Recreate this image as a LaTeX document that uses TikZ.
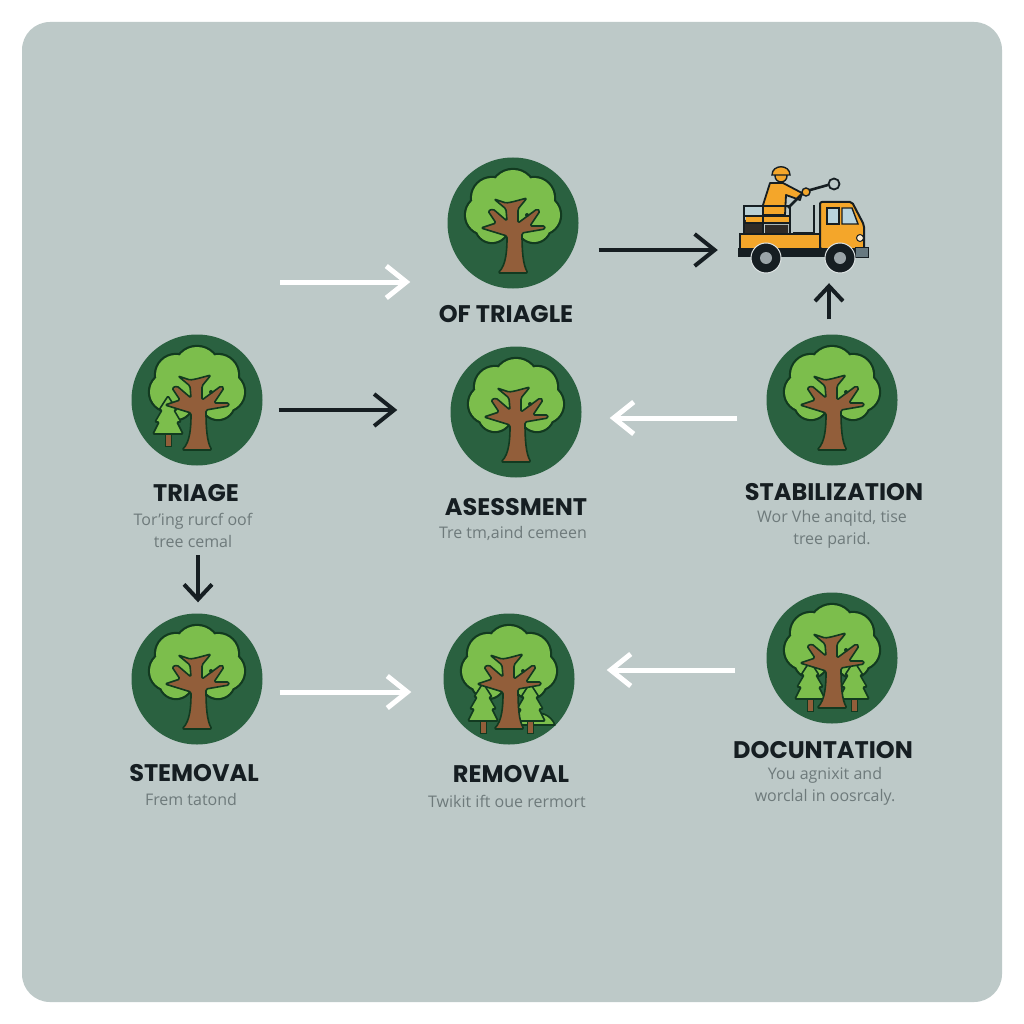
\documentclass[tikz,border=0pt]{standalone}
\usepackage{fontspec}
\setmainfont{Open Sans}
\newfontfamily\titlefont{Poppins}
\usetikzlibrary{arrows.meta,positioning}

\definecolor{panelgrey}{HTML}{BDC9C8}
\definecolor{discgreen}{HTML}{2A6140}
\definecolor{leafgreen}{HTML}{7CBE4C}
\definecolor{darkline}{HTML}{123A20}
\definecolor{barkbrown}{HTML}{925E3A}
\definecolor{inkblack}{HTML}{161E22}
\definecolor{descgrey}{HTML}{6E7A7B}
\definecolor{truckorange}{HTML}{F4A62A}
\definecolor{glassblue}{HTML}{B8D4DE}

\newcommand{\crownblobs}{
  (0,-31) circle (22) (-21,-25) circle (20) (21,-25) circle (20)
  (-28,-8) circle (19) (28,-8) circle (19) (-21,3) circle (16) (21,3) circle (16) (0,-8) circle (22)}

\tikzset{
  oak/.pic={
    % outline first, then the same blobs filled over it
    \begin{scope}[y=-1pt]
    \draw[darkline,line width=4.4pt,fill=darkline] \crownblobs;
    \fill[leafgreen] \crownblobs;
    \end{scope}
  },
  bark/.pic={
    \begin{scope}[y=-1pt]
    \draw[fill=barkbrown,draw=darkline,line width=1.6pt,rounded corners=1.5pt,line join=round]
      (-15,50) .. controls (-7,42) and (-6,28) .. (-6,13)
      -- (-32,5) -- (-17,0) -- (-25,-12) -- (-20,-14) -- (-6,-2) -- (-7,-14) -- (-19,-24)
      -- (-7,-20) -- (-1,-21) -- (14,-25) -- (5,-14) -- (5,0) -- (24,-14) -- (27,-12)
      -- (17,3) -- (32,3) -- (32,6) -- (9,10) .. controls (9,28) and (10,42) .. (15,50) -- cycle;
    \fill[darkline] (14,-8) circle (2);
    \end{scope}
  },
  pine/.pic={
    \begin{scope}[y=-1pt]
    \draw[fill=barkbrown,draw=darkline,line width=1pt] (-3,36) rectangle (3,50);
    \draw[fill=leafgreen,draw=darkline,line width=1.6pt,rounded corners=1pt,line join=round]
      (0,0) -- (-9,14) -- (-6,14) -- (-13,26) -- (-9,26) -- (-15,38) -- (15,38)
      -- (9,26) -- (13,26) -- (6,14) -- (9,14) -- cycle;
    \end{scope}
  },
  bush/.pic={
    \begin{scope}[y=-1pt]
    \draw[fill=leafgreen,draw=darkline,line width=1.6pt,line join=round]
      (1,46) .. controls (4,36) and (14,34) .. (22,38) .. controls (30,30) and (42,36) .. (46,46) -- cycle;
    \end{scope}
  }
}

\begin{document}
\begin{tikzpicture}[x=1pt,y=1pt,on grid,>={Straight Barb[length=20pt,width=32pt]},
disc/.style={circle,fill=discgreen,minimum size=131pt,inner sep=0pt},
title/.style={font=\titlefont\bfseries\fontsize{24}{28}\selectfont,text=inkblack,inner sep=0pt},
desc/.style={font=\fontsize{16}{22}\selectfont,text=descgrey,align=center,inner sep=0pt},
blackline/.style={->,draw=inkblack,line width=4pt},
whiteline/.style={->,draw=white,line width=5pt},
smallhead/.style={>={Straight Barb[length=15pt,width=28pt]}},
truckbox/.style={minimum width=131pt,minimum height=108pt,inner sep=0pt}]

\path[use as bounding box,fill=white] (0,0) rectangle (1024,-1024);
\fill[panelgrey,rounded corners=28pt] (22,-22) rectangle (1002,-1002);

\node[disc](triage) at (197,-400) {};
\node[disc](assess) [below right=12 and 319 of triage] {};
\node[disc](stab) [above right=12 and 316 of assess] {};
\node[disc](top) [above left=189 and 3 of assess] {};
\node[disc](stem) [below=279 of triage] {};
\node[disc](removal) [right=312 of stem] {};
\node[disc](doc) [above right=21 and 323 of removal] {};
\node[truckbox](truck) at (802.5,-219) {};
\coordinate (start) at (280,-282);

\node[title](toptitle) [below=91 of top,xshift=-7pt] {OF TRIAGLE};
\node[title](triagetitle) [below=93 of triage,xshift=-1pt] {TRIAGE};
\node[desc](triagedesc) [below=130 of triage,xshift=-4pt] {Tor'ing rurcf oof\\tree cemal};
\node[title](assesstitle) [below=95 of assess] {ASESSMENT};
\node[desc](assessdesc) [below=121 of assess,xshift=-3pt] {Tre tm,aind cemeen};
\node[title](stabtitle) [below=92 of stab,xshift=2pt] {STABILIZATION};
\node[desc](stabdesc) [below=129 of stab] {Wor Vhe anqitd, tise\\tree parid.};
\node[title](stemtitle) [below=94 of stem,xshift=-3pt] {STEMOVAL};
\node[desc](stemdesc) [below=120 of stem,xshift=-6pt] {Frem tatond};
\node[title](removaltitle) [below=95 of removal,xshift=2pt] {REMOVAL};
\node[desc](removaldesc) [below=122 of removal,xshift=-2pt] {Twikit ift oue rermort};
\node[title](doctitle) [below=92 of doc,xshift=-9pt] {DOCUNTATION};
\node[desc](docdesc) [below=128 of doc,xshift=-7pt] {You agnixit and\\worclal in oosrcaly.};

\pic at (top) {oak};
\pic at (top) {bark};
\pic at (assess) {oak};
\pic at (assess) {bark};
\pic at (stab) {oak};
\pic at (stab) {bark};
\pic at (stem) {oak};
\pic at (stem) {bark};
\pic at (triage) {oak};
\pic at ([shift={(-29,4)}]triage) {pine};
\pic at (triage) {bark};
\pic at (doc) {oak};
\pic at ([shift={(-22,-3)}]doc) {pine};
\pic at ([shift={(22,-3)}]doc) {pine};
\pic at (doc) {bark};
\pic at (removal) {oak};
\pic at (removal) {bush};
\pic at ([shift={(-26,-4)}]removal) {pine};
\pic at ([shift={(21,-4)}]removal) {pine};
\pic at (removal) {bark};

% truck
\begin{scope}[y=-1pt]
\fill[glassblue!60!panelgrey] (745,207) rectangle (763,218);
\fill[inkblack!80!barkbrown] (745,220) rectangle (763,233) (765,225) rectangle (788,233);
\draw[fill=truckorange,draw=inkblack,line width=1.8pt,line join=round] (770,183) -- (783,183) -- (802,193) -- (800,200) -- (786,195) -- (785,215) -- (763,215) -- (763,205) -- cycle;
\fill[truckorange] (746,216) rectangle (789,223);
\draw[inkblack,line width=2pt] (744,206) rectangle (790,234) (744,216) -- (790,216) (744,223) -- (790,223) (763,206) -- (763,234);
\draw[inkblack,line width=2pt] (814,205) -- (814,233) -- (793,233);
\draw[inkblack,line width=2.6pt] (788,208) -- (803,193) (803,192) -- (828,185);
\draw[inkblack,line width=1.8pt] (834,184) circle (5.5);
\draw[fill=truckorange,draw=inkblack,line width=1.4pt] (806,192) circle (4);
\draw[fill=truckorange,draw=inkblack,line width=1.4pt] (781,176) circle (6);
\draw[fill=truckorange,draw=inkblack,line width=1.4pt] (772,175) .. controls (772,164) and (790,164) .. (790,175) -- cycle;
\draw[fill=truckorange,draw=inkblack,line width=2pt] (740,234) rectangle (820,249);
\draw[fill=truckorange,draw=inkblack,line width=2pt,rounded corners=2pt] (820,249) -- (820,202) -- (852,202) -- (864,225) -- (864,249) -- cycle;
\draw[fill=glassblue,draw=inkblack,line width=1.4pt] (827,208) rectangle (839,224);
\draw[fill=glassblue,draw=inkblack,line width=1.4pt] (842,208) -- (852,208) -- (858,224) -- (842,224) -- cycle;
\fill[inkblack] (738,248) rectangle (858,257);
\draw[fill=glassblue!50!inkblack,draw=inkblack,line width=1pt] (855,247) rectangle (868,257);
\draw[fill=white!80!truckorange,draw=inkblack,line width=1pt] (860,238) circle (3.5);
\foreach \wheelx in {766,840} {
  \draw[fill=inkblack,draw=panelgrey!50!white,line width=1pt] (\wheelx,258) circle (15);
  \fill[glassblue!40!inkblack!60!white] (\wheelx,258) circle (6);
}
\end{scope}

\path
  (start) edge [whiteline,shorten >=37pt] ([yshift=-59pt]top.west)
  ([yshift=-27pt]top.east) edge [blackline,shorten <=20pt,shorten >=19pt] ([yshift=-31pt]truck.west)
  ([xshift=-3pt]stab.north) edge [blackline,smallhead,shorten <=15pt,shorten >=10pt] ([xshift=26.5pt]truck.south)
  ([yshift=-10pt]triage.east) edge [blackline,shorten <=16pt,shorten >=53pt] ([yshift=2pt]assess.west)
  ([yshift=-18pt]stab.west) edge [whiteline,shorten <=29pt,shorten >=28pt] ([yshift=-6pt]assess.east)
  ([xshift=5pt]triagedesc.south) edge [blackline,smallhead,shorten <=8pt,shorten >=11pt] ([xshift=1pt]stem.north)
  ([yshift=-13pt]stem.east) edge [whiteline,shorten <=17pt,shorten >=32pt] ([yshift=-13pt]removal.west)
  ([yshift=-12pt]doc.west) edge [whiteline,shorten <=31pt,shorten >=32pt] ([yshift=9pt]removal.east)
  ;

\end{tikzpicture}
\end{document}
